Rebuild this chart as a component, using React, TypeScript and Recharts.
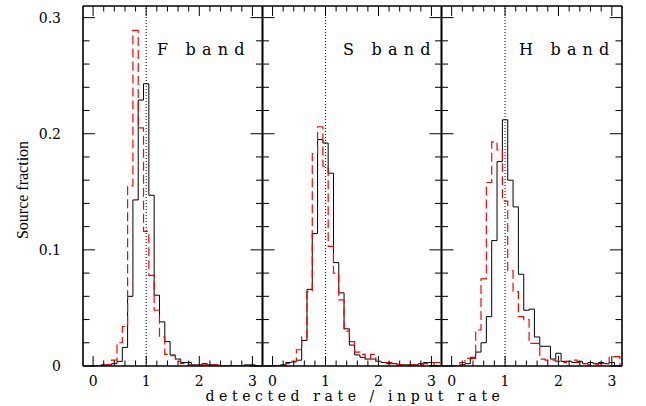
import React from 'react';
import { ComposedChart, Line, XAxis, YAxis, ReferenceLine } from 'recharts';

// Histogram bin edges (32 bins of width 0.1, last edge closes the outline)
const BIN_EDGES = [
  -0.05, 0.05, 0.15, 0.25, 0.35, 0.45, 0.55, 0.65, 0.75, 0.85, 0.95,
  1.05, 1.15, 1.25, 1.35, 1.45, 1.55, 1.65, 1.75, 1.85, 1.95,
  2.05, 2.15, 2.25, 2.35, 2.45, 2.55, 2.65, 2.75, 2.85, 2.95, 3.05, 3.15,
];

// F band
const F_BLACK = [0, 0, 0.001, 0.001, 0.002, 0.004, 0.016, 0.06, 0.143, 0.229, 0.243, 0.147, 0.061, 0.038, 0.021, 0.0095, 0.006, 0.003, 0.003, 0.001, 0.001, 0.002, 0.001, 0.001, 0, 0, 0, 0, 0, 0.001, 0.001, 0];
const F_RED = [0, 0, 0, 0.001, 0.005, 0.02, 0.034, 0.155, 0.289, 0.205, 0.116, 0.078, 0.048, 0.025, 0.01, 0.009, 0.004, 0.002, 0.001, 0, 0, 0.001, 0.001, 0.001, 0, 0, 0, 0, 0, 0, 0, 0];
// S band
const S_BLACK = [0, 0, 0.001, 0.003, 0.0035, 0.005, 0.022, 0.066, 0.114, 0.195, 0.192, 0.166, 0.089, 0.063, 0.032, 0.018, 0.0095, 0.0075, 0.006, 0.006, 0.004, 0.003, 0.002, 0.002, 0.001, 0.001, 0.001, 0.001, 0.002, 0.003, 0.003, 0];
const S_RED = [0, 0, 0, 0.002, 0.004, 0.014, 0.025, 0.064, 0.183, 0.206, 0.172, 0.103, 0.08, 0.057, 0.03, 0.021, 0.012, 0.01, 0.006, 0.01, 0.004, 0.003, 0.003, 0.002, 0.001, 0.001, 0.001, 0.001, 0.001, 0.002, 0.003, 0.003];
// H band
const H_BLACK = [0, 0, 0.001, 0.002, 0.0075, 0.012, 0.02, 0.0425, 0.108, 0.176, 0.212, 0.16, 0.137, 0.079, 0.048, 0.049, 0.025, 0.017, 0.017, 0.006, 0.011, 0.004, 0.004, 0.003, 0.004, 0.002, 0.003, 0.002, 0.003, 0.002, 0.003, 0];
const H_RED = [0, 0, 0.003, 0.0066, 0.0066, 0.031, 0.075, 0.158, 0.193, 0.186, 0.142, 0.082, 0.064, 0.0425, 0.04, 0.0195, 0.0195, 0.006, 0.005, 0.005, 0.004, 0.003, 0.004, 0.005, 0.003, 0.002, 0.001, 0.001, 0.002, 0.002, 0.008, 0.008];

const BAND_LABELS = ['F band', 'S band', 'H band'];

const X_TICKS = [0, 0.2, 0.4, 0.6, 0.8, 1, 1.2, 1.4, 1.6, 1.8, 2, 2.2, 2.4, 2.6, 2.8, 3];
const X_MAJOR = [0, 1, 2, 3];
const X_LABELS = ['0', '1', '2', '3'];
const Y_TICKS = [0, 0.02, 0.04, 0.06, 0.08, 0.1, 0.12, 0.14, 0.16, 0.18, 0.2, 0.22, 0.24, 0.26, 0.28, 0.3];
const Y_MAJOR = [0, 0.1, 0.2, 0.3];
const Y_LABELS = ['0', '0.1', '0.2', '0.3'];

const X_TITLE = 'detected rate / input rate';
const Y_TITLE = 'Source fraction';

const X_DOMAIN: [number, number] = [-0.19, 3.19];
const Y_DOMAIN: [number, number] = [0, 0.31];

const CHART_W = 646;
const CHART_H = 406;
const PLOT_TOP = 6;
const PLOT_BOTTOM = 366;
const TICK_FONT = "'DejaVu Serif', serif";

function buildData(black: number[], red: number[]) {
  return BIN_EDGES.map((x, i) => ({
    x,
    sim: i < black.length ? black[i] : 0,
    obs: i < red.length ? red[i] : 0,
  }));
}

const majorIndex = (arr: number[], v: number) => arr.findIndex((m) => Math.abs(m - v) < 1e-6);

const makeXTick = (side: 'top' | 'bottom') => (p: any) => {
  const v = p.payload.value;
  const idx = majorIndex(X_MAJOR, v);
  const len = idx >= 0 ? 10 : 5.5;
  const y0 = side === 'bottom' ? PLOT_BOTTOM : PLOT_TOP;
  const dir = side === 'bottom' ? -1 : 1;
  return (
    <g>
      <line x1={p.x} x2={p.x} y1={y0} y2={y0 + dir * len} stroke="#000" strokeWidth={1} />
      {side === 'bottom' && idx >= 0 && (
        <text x={p.x} y={PLOT_BOTTOM + 20} textAnchor="middle" fontFamily={TICK_FONT} fontSize={14} fill="#000">
          {X_LABELS[idx]}
        </text>
      )}
    </g>
  );
};

const makeYTick = (side: 'left' | 'right', edgeX: number, showLabels: boolean) => (p: any) => {
  const v = p.payload.value;
  const idx = majorIndex(Y_MAJOR, v);
  const len = idx >= 0 ? 12 : 6.5;
  const dir = side === 'left' ? 1 : -1;
  return (
    <g>
      <line x1={edgeX} x2={edgeX + dir * len} y1={p.y} y2={p.y} stroke="#000" strokeWidth={1} />
      {showLabels && side === 'left' && idx >= 0 && (
        <text x={edgeX - 22} y={p.y + 5} textAnchor="end" fontFamily={TICK_FONT} fontSize={14} fill="#000">
          {Y_LABELS[idx]}
        </text>
      )}
    </g>
  );
};

type PanelProps = {
  plotLeft: number;
  plotW: number;
  black: number[];
  red: number[];
  showYLabels: boolean;
};

function Panel({ plotLeft, plotW, black, red, showYLabels }: PanelProps) {
  const data = buildData(black, red);
  const frame = { stroke: '#000', strokeWidth: 1.6 };
  const rightEdge = plotLeft + plotW;
  return (
    <div style={{ position: 'absolute', left: 0, top: 0, width: CHART_W, height: CHART_H }}>
      <ComposedChart
        width={CHART_W}
        height={CHART_H}
        data={data}
        margin={{ top: PLOT_TOP - 2, right: CHART_W - rightEdge - 2, bottom: 0, left: plotLeft - 2 }}
      >
        <XAxis
          xAxisId="b"
          dataKey="x"
          type="number"
          orientation="bottom"
          domain={X_DOMAIN}
          allowDataOverflow
          ticks={X_TICKS}
          interval={0}
          height={CHART_H - PLOT_BOTTOM}
          tickSize={0}
          tickMargin={0}
          axisLine={frame}
          tickLine={false}
          tick={makeXTick('bottom')}
        />
        <XAxis
          xAxisId="t"
          dataKey="x"
          type="number"
          orientation="top"
          domain={X_DOMAIN}
          allowDataOverflow
          ticks={X_TICKS}
          interval={0}
          height={2}
          tickSize={0}
          tickMargin={0}
          axisLine={frame}
          tickLine={false}
          tick={makeXTick('top')}
        />
        <YAxis
          yAxisId="l"
          type="number"
          orientation="left"
          domain={Y_DOMAIN}
          allowDataOverflow
          ticks={Y_TICKS}
          interval={0}
          width={2}
          tickSize={0}
          tickMargin={0}
          axisLine={frame}
          tickLine={false}
          tick={makeYTick('left', plotLeft, showYLabels)}
        />
        <YAxis
          yAxisId="r"
          type="number"
          orientation="right"
          domain={Y_DOMAIN}
          allowDataOverflow
          ticks={Y_TICKS}
          interval={0}
          width={2}
          tickSize={0}
          tickMargin={0}
          axisLine={frame}
          tickLine={false}
          tick={makeYTick('right', rightEdge, false)}
        />
        <ReferenceLine xAxisId="b" yAxisId="l" x={1} stroke="#000" strokeWidth={1} strokeDasharray="1 2" />
        <Line
          xAxisId="b"
          yAxisId="l"
          dataKey="sim"
          type="stepAfter"
          stroke="#000"
          strokeWidth={1}
          dot={false}
          activeDot={false}
          isAnimationActive={false}
        />
        <Line
          xAxisId="b"
          yAxisId="l"
          dataKey="obs"
          type="stepAfter"
          stroke="#ff0000"
          strokeWidth={1.2}
          strokeDasharray="9 4"
          dot={false}
          activeDot={false}
          isAnimationActive={false}
        />
      </ComposedChart>
    </div>
  );
}

const PANELS = [
  { plotLeft: 83, plotW: 179.5, black: F_BLACK, red: F_RED, bandX: 157 },
  { plotLeft: 262.5, plotW: 179, black: S_BLACK, red: S_RED, bandX: 343 },
  { plotLeft: 441.5, plotW: 180.5, black: H_BLACK, red: H_RED, bandX: 519 },
];

function TextLayer() {
  const yx = 28;
  const yy = 190;
  return (
    <svg width={CHART_W} height={CHART_H} style={{ position: 'absolute', left: 0, top: 0, pointerEvents: 'none' }}>
      {PANELS.map((p, i) => (
        <text key={i} x={p.bandX} y={55} fontFamily={TICK_FONT} fontSize={16} letterSpacing={6.2} fill="#000">
          {BAND_LABELS[i]}
        </text>
      ))}
      <text x={355} y={401} textAnchor="middle" fontFamily={TICK_FONT} fontSize={14} letterSpacing={4.6} fill="#000">
        {X_TITLE}
      </text>
      <text
        x={yx}
        y={yy}
        transform={`rotate(-90 ${yx} ${yy})`}
        textAnchor="middle"
        fontFamily="'Liberation Serif', serif"
        fontSize={16}
        fill="#000"
      >
        {Y_TITLE}
      </text>
    </svg>
  );
}

export default function App() {
  return (
    <div style={{ position: 'absolute', left: 0, top: 0, width: CHART_W, height: CHART_H, background: '#fff', overflow: 'hidden' }}>
      {PANELS.map((p, i) => (
        <Panel key={i} plotLeft={p.plotLeft} plotW={p.plotW} black={p.black} red={p.red} showYLabels={i === 0} />
      ))}
      <TextLayer />
    </div>
  );
}
